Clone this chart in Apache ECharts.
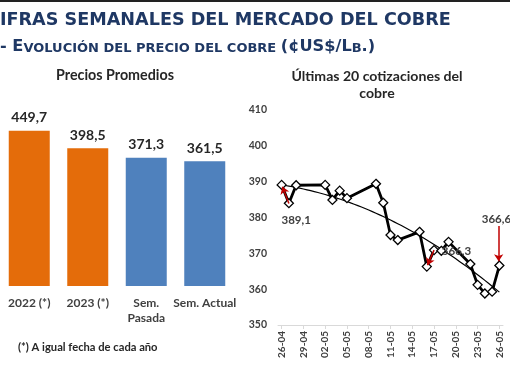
<!DOCTYPE html>
<html><head><meta charset="utf-8">
<script src="https://cdn.jsdelivr.net/npm/echarts@6/dist/echarts.min.js"></script>
<style>html,body{margin:0;padding:0;background:#fff}#c{width:510px;height:382px}</style>
</head><body><div id="c"></div>
<script>
// ---- data ----
const barCategories = ['2022 (*)', '2023 (*)', 'Sem.\nPasada', 'Sem. Actual'];
const barValues = [449.7, 398.5, 371.3, 361.5];
const barGroups = ['year', 'year', 'week', 'week'];

const quoteDates = ['26-04','27-04','28-04','02-05','03-05','04-05','05-05','09-05','10-05','11-05','12-05',
                    '15-05','16-05','17-05','18-05','19-05','22-05','23-05','24-05','25-05','26-05'];
const quoteValues = [389.1, 384.0, 389.0, 389.1, 384.9, 387.5, 385.4, 389.4, 384.1, 375.1, 373.7,
                     376.0, 366.3, 370.9, 370.7, 373.2, 367.0, 361.2, 358.8, 359.3, 366.6];
const xTickLabels = ['26-04','29-04','02-05','05-05','08-05','11-05','14-05','17-05','20-05','23-05','26-05'];
const calloutDates = ['26-04', '16-05', '26-05'];

// ---- helpers ----
const BASE = Date.UTC(2023, 3, 26);
function dayOf(s) { const [d, m] = s.split('-').map(Number); return (Date.UTC(2023, m - 1, d) - BASE) / 86400000; }
const fmt = v => v.toFixed(1).replace('.', ',');
const xs = quoteDates.map(dayOf);
const linePts = xs.map((x, i) => [x, quoteValues[i]]);

// quadratic least-squares trendline (as in the spreadsheet's polynomial trendline)
function quadFit(X, Y) {
  let s = [0,0,0,0,0], t = [0,0,0];
  X.forEach((x, i) => { for (let k = 0; k < 5; k++) s[k] += Math.pow(x, k); for (let k = 0; k < 3; k++) t[k] += Math.pow(x, k) * Y[i]; });
  const A = [[s[0], s[1], s[2], t[0]], [s[1], s[2], s[3], t[1]], [s[2], s[3], s[4], t[2]]];
  for (let i = 0; i < 3; i++) { for (let j = i + 1; j < 3; j++) { const f = A[j][i] / A[i][i]; for (let k = i; k < 4; k++) A[j][k] -= f * A[i][k]; } }
  const c = [0,0,0];
  for (let i = 2; i >= 0; i--) { let v = A[i][3]; for (let k = i + 1; k < 3; k++) v -= A[i][k] * c[k]; c[i] = v / A[i][i]; }
  return x => c[0] + c[1] * x + c[2] * x * x;
}
const trendF = quadFit(xs, quoteValues);
const trendPts = [];
for (let x = xs[0]; x <= xs[xs.length - 1] + 1e-9; x += 0.5) trendPts.push([x, trendF(x)]);

// callouts (label + red arrow to the point)
const callIdx = calloutDates.map(d => quoteDates.indexOf(d));
const arrowSpec = [ // offsets in axis units from the target point: start dx,dy ; end dx,dy ; label dx,dy
  { s: [1.0, -5.2], e: [0.1, -0.5], l: [2.0, -9.8] },
  { s: [1.0, 4.6], e: [0.1, 0.4], l: [4.1, 4.3] },
  { s: [-0.1, 11.0], e: [-0.1, 1.2], l: [-0.4, 13.0] }
];
const markLines = callIdx.map((i, k) => {
  const [x, y] = linePts[i], a = arrowSpec[k];
  return [{ coord: [x + a.s[0], y + a.s[1]] }, { coord: [x + a.e[0], y + a.e[1]] }];
});
const markPts = callIdx.map((i, k) => {
  const [x, y] = linePts[i], a = arrowSpec[k];
  return { coord: [x + a.l[0], y + a.l[1]], value: fmt(quoteValues[i]) };
});

const ORANGE = '#E46C0A', BLUE = '#4F81BD', NAVY = '#1F3864', TXT = '#404040';
const chart = echarts.init(document.getElementById('c'), null, { renderer: 'canvas' });
chart.setOption({
  animation: false,
  backgroundColor: '#fff',
  graphic: [
    { type: 'rect', shape: { x: 0, y: 0, width: 510, height: 2 }, style: { fill: '#222' } },
    { type: 'text', x: 0, y: 20, style: { text: 'IFRAS SEMANALES DEL MERCADO DEL COBRE', fill: NAVY,
      font: 'bold 17.6px "DejaVu Sans"', textVerticalAlign: 'middle' } },
    { type: 'text', x: 0, y: 47, style: {
      text: '{b|- E}{s|VOLUCIÓN DEL PRECIO DEL COBRE }{b|(¢US$/L}{s|B}{b|.)}', textVerticalAlign: 'middle',
      rich: { b: { fontFamily: 'DejaVu Sans', fontWeight: 'bold', fontSize: 16.2, fill: NAVY, verticalAlign: 'bottom' },
              s: { fontFamily: 'DejaVu Sans', fontWeight: 'bold', fontSize: 13, fill: NAVY, verticalAlign: 'bottom' } } } },
    { type: 'text', x: 115, y: 75, style: { text: 'Precios Promedios', fill: '#262626', font: 'bold 14.3px Lato', textAlign: 'center', textVerticalAlign: 'middle' } },
    { type: 'text', x: 377, y: 85, style: { text: 'Últimas 20 cotizaciones del\ncobre', fill: '#262626', font: 'bold 14.1px Lato', textAlign: 'center', textVerticalAlign: 'middle', lineHeight: 17.5 } },
    { type: 'text', x: 18, y: 347, style: { text: '(*) A igual fecha de cada año', fill: '#262626', font: 'bold 11.2px Lato', textVerticalAlign: 'middle' } }
  ],
  grid: [
    { left: -2, width: 236, top: 113.3, height: 172.7 },
    { left: 278, width: 225, top: 110, height: 215 }
  ],
  xAxis: [
    { gridIndex: 0, type: 'category', data: barCategories, axisLine: { show: false }, axisTick: { show: false },
      axisLabel: { color: TXT, fontFamily: 'Lato', fontWeight: 'bold', fontSize: 12, margin: 10, lineHeight: 14.5, interval: 0 } },
    { gridIndex: 1, type: 'value', min: -0.5, max: 30.5, splitLine: { show: false },
      axisLine: { lineStyle: { color: '#D9D9D9', width: 1 } },
      axisTick: { show: true, customValues: xTickLabels.map(dayOf), length: 4, lineStyle: { color: '#D9D9D9' } },
      axisLabel: { customValues: xTickLabels.map(dayOf), rotate: 90, color: TXT, fontFamily: 'Lato', fontWeight: 'bold', fontSize: 10, margin: 6,
        formatter: v => xTickLabels[xTickLabels.map(dayOf).indexOf(v)] || '' } }
  ],
  yAxis: [
    { gridIndex: 0, type: 'value', min: 0, max: 500, show: false },
    { gridIndex: 1, type: 'value', min: 350, max: 410, interval: 10, splitLine: { show: false },
      axisLine: { show: false }, axisTick: { show: false },
      axisLabel: { color: TXT, fontFamily: 'Lato', fontWeight: 'bold', fontSize: 10.5, margin: 11 } }
  ],
  series: [
    { type: 'bar', xAxisIndex: 0, yAxisIndex: 0, barWidth: 41,
      data: barValues.map((v, i) => ({ value: v, itemStyle: { color: barGroups[i] === 'year' ? ORANGE : BLUE } })),
      label: { show: true, position: 'top', distance: 6, formatter: p => fmt(p.value), color: '#262626', fontFamily: 'Lato', fontWeight: 'bold', fontSize: 14 } },
    { type: 'line', xAxisIndex: 1, yAxisIndex: 1, data: trendPts, showSymbol: false, symbol: 'none',
      lineStyle: { color: '#000', width: 1.2 }, z: 2 },
    { type: 'line', xAxisIndex: 1, yAxisIndex: 1, data: linePts, symbol: 'diamond', symbolSize: 9,
      itemStyle: { color: '#fff', borderColor: '#000', borderWidth: 1.3 },
      lineStyle: { color: '#000', width: 2.8 }, z: 3,
      markLine: { silent: true, symbol: ['none', 'arrow'], symbolSize: 7, label: { show: false },
        lineStyle: { color: '#C00000', width: 1.5, type: 'solid' }, data: markLines, z: 5 },
      markPoint: { symbol: 'circle', symbolSize: 0, silent: true, data: markPts,
        label: { show: true, position: 'inside', formatter: p => p.value, color: TXT, fontFamily: 'Lato', fontWeight: 'bold', fontSize: 11.5 } } }
  ]
});
</script></body></html>
